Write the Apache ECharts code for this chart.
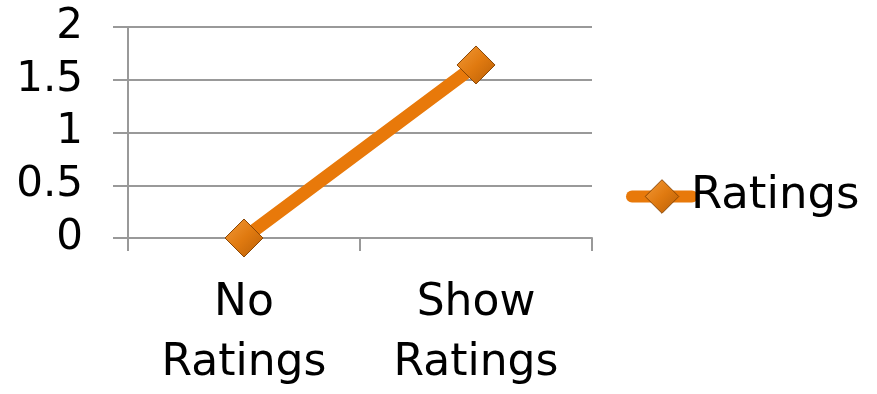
<!DOCTYPE html>
<html><head><meta charset="utf-8">
<script src="https://cdn.jsdelivr.net/npm/echarts@6/dist/echarts.min.js"></script>
<style>html,body{margin:0;padding:0;background:#fff}#c{width:877px;height:394px}</style>
</head><body><div id="c"></div>
<script>
const categories = ['No\nRatings', 'Show\nRatings'];
const seriesName = 'Ratings';
const values = [0, 1.64];
const yMin = 0, yMax = 2, yInterval = 0.5;

const FONT = 'DejaVu Sans';
const markerFill = {
  type: 'linear', x: 0, y: 0, x2: 1, y2: 1,
  colorStops: [{offset: 0, color: '#F29A3A'}, {offset: 0.5, color: '#E07A10'}, {offset: 1, color: '#B85E06'}]
};
const chart = echarts.init(document.getElementById('c'), null, {renderer: 'canvas'});
chart.setOption({
  animation: false,
  backgroundColor: '#fff',
  grid: {left: 128, right: 285, top: 27, bottom: 152, containLabel: false},
  legend: {
    data: [seriesName], left: 626, top: 174, orient: 'vertical', padding: 0,
    itemWidth: 60, itemHeight: 42, itemGap: 6,
    lineStyle: {width: 12, cap: 'round', color: '#E8790A'},
    itemStyle: {color: markerFill, borderColor: '#8A4604', borderWidth: 1},
    textStyle: {fontFamily: FONT, fontSize: 45, color: '#000', padding: [0, 0, 0, -6]}
  },
  xAxis: {
    type: 'category', data: categories, boundaryGap: true,
    axisLine: {show: true, lineStyle: {color: '#999', width: 2}},
    axisTick: {show: true, length: 13, lineStyle: {color: '#999', width: 2}},
    axisLabel: {fontFamily: FONT, fontSize: 44, color: '#000', margin: 36, lineHeight: 60, align: 'center'},
    splitLine: {show: false}
  },
  yAxis: {
    type: 'value', min: yMin, max: yMax, interval: yInterval,
    axisLine: {show: true, lineStyle: {color: '#999', width: 2}},
    axisTick: {show: true, length: 15, lineStyle: {color: '#999', width: 2}},
    axisLabel: {fontFamily: FONT, fontSize: 42, color: '#000', margin: 45},
    splitLine: {show: true, lineStyle: {color: '#999', width: 2}}
  },
  series: [{
    name: seriesName, type: 'line', data: values,
    lineStyle: {color: '#E8790A', width: 13, cap: 'round'},
    symbol: 'diamond', symbolSize: [38, 38],
    itemStyle: {color: markerFill, borderColor: '#8A4604', borderWidth: 1},
    color: '#E8790A'
  }]
});
</script></body></html>
